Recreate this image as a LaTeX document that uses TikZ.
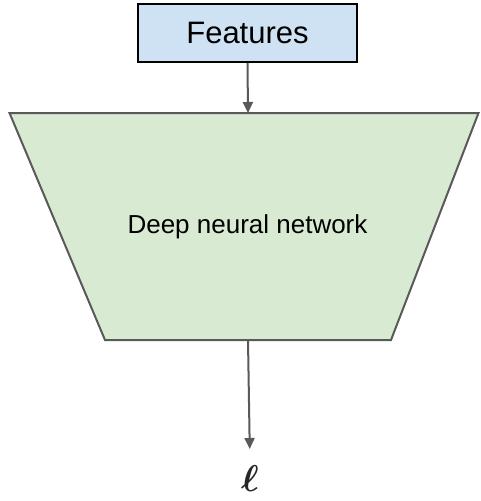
\documentclass[tikz,border=0pt]{standalone}
\usepackage{amsmath}
\usepackage{bm}
\usepackage{fontspec}
\setmainfont{Liberation Sans}
\usepackage{xcolor}
\usepackage{tikz}
\usetikzlibrary{arrows.meta}
\definecolor{featblue}{HTML}{CFE2F3}
\definecolor{dnngreen}{HTML}{D9EAD3}
\definecolor{linegray}{HTML}{595959}
\tikzset{
featbox/.style={
  draw=black,
  line width=1.5pt,
  fill=featblue,
  minimum width=219pt,
  minimum height=58pt,
  inner sep=0pt,
  font=\fontsize{31}{36}\selectfont
},
netbody/.style={draw=linegray, line width=2pt, fill=dnngreen},
flow/.style={draw=linegray, line width=2pt, -{Triangle[width=10pt,length=11pt]}},
}

\begin{document}
\begin{tikzpicture}[x=1pt,y=-1pt]
\useasboundingbox (0,0) rectangle (481,501);
\node (feat) [featbox] at (247.5,33) {Features};
% the network body
\draw[netbody] (9.5,113) -- (478.5,113) -- (391,340) -- (105,340) -- cycle;
\node (dnn) [font=\fontsize{26}{30}\selectfont] at (247.5,227) {Deep neural network};
\coordinate (dnn top) at (248,113);
\coordinate (dnn bot) at (248,340);
\node (ell) [inner sep=0pt, anchor=north, font=\Huge, scale=1.5, text=black!85] at (250,465) {$\bm{\ell}$};
% the arrows
\draw[flow] (feat.south) -- (dnn top);
\draw[flow, shorten >=16pt] (dnn bot) -- (ell.north);
\end{tikzpicture}
\end{document}
